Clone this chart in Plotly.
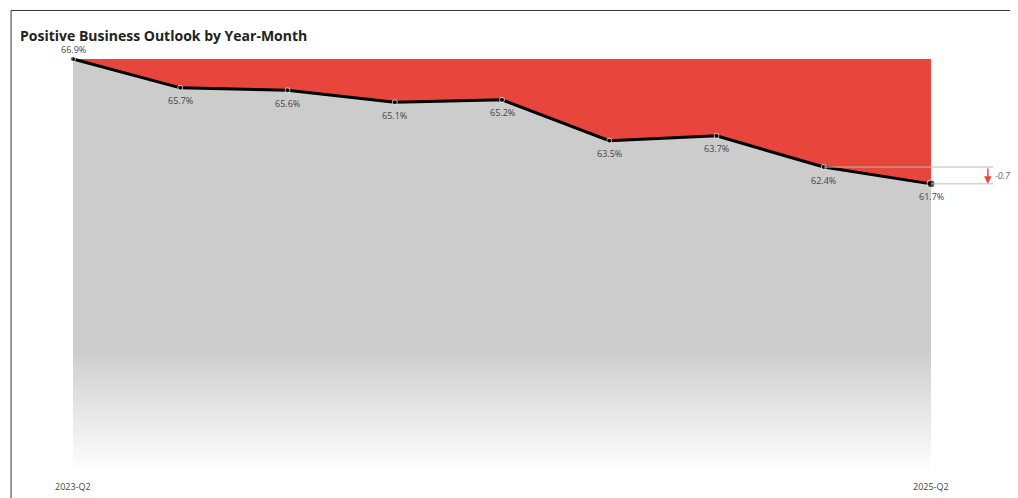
import plotly.graph_objects as go

quarters = ['2023-Q2', '2023-Q3', '2023-Q4', '2024-Q1', '2024-Q2',
            '2024-Q3', '2024-Q4', '2025-Q1', '2025-Q2']
values = [66.9, 65.7, 65.6, 65.1, 65.2, 63.5, 63.7, 62.4, 61.7]
base = 49.7
top = max(values)

idx = list(range(len(values)))
W, H = 1018, 498

fig = go.Figure()

# baseline for gray area
fig.add_trace(go.Scatter(x=idx, y=[base] * len(idx), mode='lines',
                         line=dict(width=0), hoverinfo='skip'))
# gray area under the line, fading to white at the bottom
fig.add_trace(go.Scatter(x=idx, y=values, mode='lines', line=dict(width=0),
                         fill='tonexty',
                         fillgradient=dict(type='vertical', start=base, stop=top,
                                           colorscale=[[0, 'rgba(255,255,255,1)'],
                                                       [0.3, '#cccccc'],
                                                       [1, '#cccccc']]),
                         hoverinfo='skip'))
# red area above the line up to the first value
fig.add_trace(go.Scatter(x=idx, y=[top] * len(idx), mode='lines',
                         line=dict(width=0), fill='tonexty',
                         fillcolor='#e8463d', hoverinfo='skip'))
# main line
sizes = [5] * (len(values) - 1) + [8]
fig.add_trace(go.Scatter(x=idx, y=values, mode='lines+markers',
                         line=dict(color='black', width=3),
                         marker=dict(color='black', size=sizes)))

for i, v in enumerate(values):
    fig.add_annotation(x=i, y=v, text='{:.1f}%'.format(v), showarrow=False,
                       yshift=10 if i == 0 else -13,
                       font=dict(size=9, color='#444'))

# tick labels at the ends
for i in [0, len(quarters) - 1]:
    fig.add_annotation(x=i, y=49.1, text=quarters[i], showarrow=False,
                       font=dict(size=9, color='#444'))

# change indicator
diff = values[-1] - values[-2]
xr = 8.58
fig.add_shape(type='line', x0=7, x1=xr, y0=values[-2], y1=values[-2],
              line=dict(color='#bbbbbb', width=1))
fig.add_shape(type='line', x0=8, x1=xr, y0=values[-1], y1=values[-1],
              line=dict(color='#bbbbbb', width=1))
fig.add_annotation(x=8.53, y=values[-1], ax=8.53, ay=values[-2],
                   xref='x', yref='y', axref='x', ayref='y', text='',
                   showarrow=True, arrowhead=2, arrowsize=1, arrowwidth=1.5,
                   arrowcolor='#e8463d')
fig.add_annotation(x=8.58, y=(values[-1] + values[-2]) / 2,
                   text='<i>{:.1f}%</i>'.format(diff), showarrow=False,
                   xanchor='left', font=dict(size=9, color='#666'))

fig.add_annotation(x=10, y=16, xref='paper', yref='paper', text='<b>Positive Business Outlook by Year-Month</b>',
                   showarrow=False, xanchor='left', font=dict(size=14, color='#222'))
fig.layout.annotations[-1].update(x=10 / W, y=1 - 16 / H)

fig.add_shape(type='rect', xref='paper', yref='paper', x0=0.003, x1=0.997,
              y0=0.005, y1=0.995, line=dict(color='#333', width=1))

px = 107.25
ppy = 24.0
fig.update_layout(
    width=W, height=H, margin=dict(l=0, r=0, t=0, b=0),
    paper_bgcolor='white', plot_bgcolor='white', showlegend=False,
    font=dict(family='Segoe UI, Open Sans, sans-serif'),
    xaxis=dict(visible=False, range=[-65 / px, 8 + (W - 923) / px]),
    yaxis=dict(visible=False, range=[61.7 - (H - 176) / ppy, 66.9 + 51 / ppy]),
)

fig.write_html("out.html")
